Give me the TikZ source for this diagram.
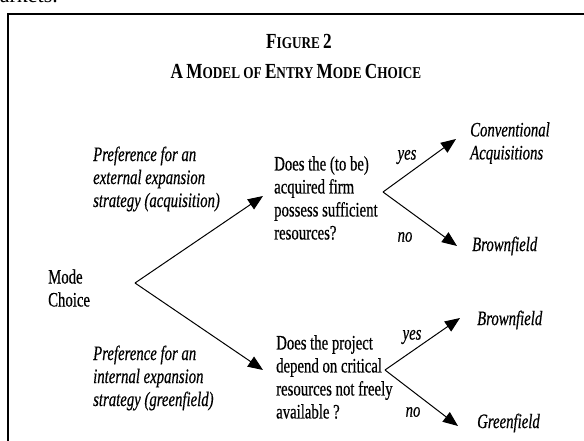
\documentclass[tikz,border=0pt]{standalone}
\usepackage{fontspec}
\setmainfont{Liberation Serif}[FakeStretch=0.72, FakeBold=0.5]
\newfontfamily\headfont{Liberation Serif}[FakeStretch=0.8]
\newfontfamily\pagefont{Liberation Serif}
\usepackage{tikz}
\usetikzlibrary{arrows.meta}

% hand made small caps: first letter large, the rest small
\newcommand{\capword}[2]{{\fontsize{21.5}{25}\selectfont #1}{\fontsize{16.5}{25}\selectfont #2}}

\tikzset{
	txt/.style={inner sep=0pt, align=left, anchor=west, font=\fontsize{20.5}{23}\selectfont},
	pref/.style={txt, font=\fontsize{20.5}{23}\selectfont\itshape},
	branch/.style={inner sep=0pt, font=\fontsize{20.5}{23}\selectfont\itshape},
	head/.style={inner sep=0pt, font=\headfont\bfseries\fontsize{16.5}{25}\selectfont},
}

\begin{document}
\begin{tikzpicture}[x=1pt,y=-1pt]
	\useasboundingbox (0,0) rectangle (584,441);
	%
	\node[anchor=base east, inner sep=0pt, font=\pagefont\fontsize{22}{25}\selectfont] (pg) at (58,3) {markets.};
	\draw[line width=1.5pt] (8,14) rectangle (600,470);
	%
	\node[head] (T1) at (299,41) {\capword{F}{IGURE} \capword{2}{}};
	\node[head] (T2) at (296,71) {\capword{A}{} \capword{M}{ODEL} \capword{}{OF} \capword{E}{NTRY} \capword{M}{ODE} \capword{C}{HOICE}};
	%
	\node[txt] (MC) at (48,288) {Mode\\Choice};
	\node[pref] (P1) at (93,179) {Preference for an\\external expansion\\strategy (acquisition)};
	\node[pref] (P2) at (93,378) {Preference for an\\internal expansion\\strategy (greenfield)};
	\node[txt] (Q1) at (274,198) {Does the (to be)\\acquired firm\\possess sufficient\\resources?};
	\node[txt] (Q2) at (276,377) {Does the project\\depend on critical\\resources not freely\\available ?};
	%
	\node[pref] (CA) at (470,143) {Conventional\\Acquisitions};
	\node[pref] (B1) at (472,246) {Brownfield};
	\node[pref] (B2) at (477,320) {Brownfield};
	\node[pref] (G2) at (477,423) {Greenfield};
	%
	\node[branch] (Y1) at (407,157) {yes};
	\node[branch] (N1) at (405,237) {no};
	\node[branch] (Y2) at (412,337) {yes};
	\node[branch] (N2) at (413,412) {no};
	%
	\coordinate (F0) at (135,283);
	\coordinate (F1) at (383,192);
	\coordinate (F2) at (385,370);
	%
	\path[-{Triangle[length=15pt,width=12pt]}, line width=1pt]
	% first choice
	(F0) edge ([xshift=-11pt,yshift=2pt]Q1.west)
	(F0) edge ([xshift=-13pt,yshift=7pt]Q2.west)
	% acquisition branch
	(F1) edge ([xshift=-14pt,yshift=4pt]CA.west)
	(F1) edge ([xshift=-15pt]B1.west)
	% greenfield branch
	(F2) edge ([xshift=-17pt,yshift=2pt]B2.west)
	(F2) edge ([xshift=-19pt,yshift=-3pt]G2.west);
\end{tikzpicture}
\end{document}
